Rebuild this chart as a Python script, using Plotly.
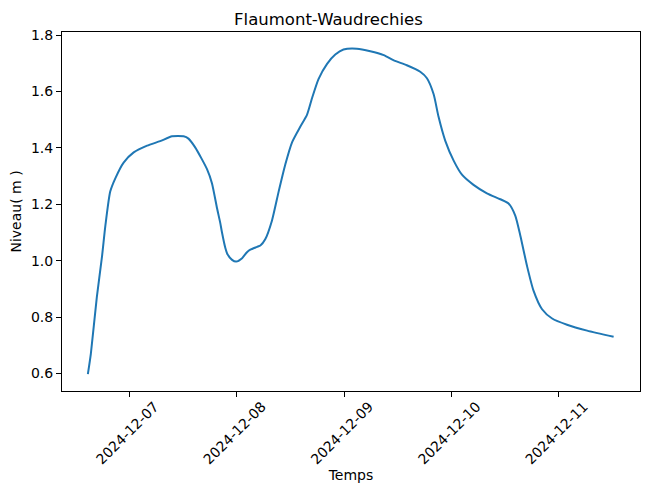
import plotly.graph_objects as go

# niveau d'eau
temps = [
    "2024-12-06 14:40", "2024-12-06 15:20", "2024-12-06 16:40", "2024-12-06 17:50",
    "2024-12-06 18:35", "2024-12-06 19:40", "2024-12-06 20:50", "2024-12-06 22:40",
    "2024-12-07 00:55", "2024-12-07 03:55", "2024-12-07 06:50", "2024-12-07 09:30",
    "2024-12-07 12:05", "2024-12-07 13:10", "2024-12-07 14:40", "2024-12-07 17:20",
    "2024-12-07 18:25", "2024-12-07 19:35", "2024-12-07 20:15", "2024-12-07 20:40",
    "2024-12-07 21:25", "2024-12-07 21:50", "2024-12-07 22:55", "2024-12-07 23:50",
    "2024-12-08 01:10", "2024-12-08 02:15", "2024-12-08 03:00", "2024-12-08 04:30",
    "2024-12-08 05:15", "2024-12-08 06:20", "2024-12-08 07:50", "2024-12-08 09:20",
    "2024-12-08 10:50", "2024-12-08 12:20", "2024-12-08 14:10", "2024-12-08 15:40",
    "2024-12-08 16:50", "2024-12-08 18:15", "2024-12-08 20:10", "2024-12-08 22:00",
    "2024-12-08 23:50", "2024-12-09 02:50", "2024-12-09 05:50", "2024-12-09 08:50",
    "2024-12-09 11:00", "2024-12-09 14:00", "2024-12-09 17:00", "2024-12-09 18:30",
    "2024-12-09 20:00", "2024-12-09 21:05", "2024-12-09 22:35", "2024-12-10 00:30",
    "2024-12-10 02:20", "2024-12-10 04:55", "2024-12-10 07:55", "2024-12-10 10:55",
    "2024-12-10 12:45", "2024-12-10 14:15", "2024-12-10 15:25", "2024-12-10 16:55",
    "2024-12-10 18:20", "2024-12-10 20:15", "2024-12-10 22:30", "2024-12-11 01:50",
    "2024-12-11 06:20", "2024-12-11 12:15",
]
niveau = [
    0.598, 0.670, 0.870, 1.015,
    1.124, 1.245, 1.293, 1.348,
    1.384, 1.408, 1.424, 1.441,
    1.441, 1.433, 1.402, 1.324,
    1.275, 1.184, 1.136, 1.100,
    1.045, 1.025, 1.003, 0.997,
    1.009, 1.030, 1.039, 1.049,
    1.054, 1.076, 1.142, 1.245,
    1.342, 1.420, 1.475, 1.517,
    1.578, 1.644, 1.698, 1.731,
    1.749, 1.752, 1.743, 1.729,
    1.711, 1.693, 1.670, 1.647,
    1.590, 1.511, 1.426, 1.354,
    1.305, 1.269, 1.239, 1.218,
    1.203, 1.160, 1.087, 0.979,
    0.894, 0.828, 0.795, 0.773,
    0.752, 0.730,
]

fig = go.Figure()
fig.add_trace(go.Scatter(x=temps, y=niveau, mode="lines",
                         line=dict(color="#1f77b4", width=2, shape="spline", smoothing=0.6)))

axe = dict(showline=True, mirror=True, linecolor="black", linewidth=1,
           ticks="outside", ticklen=5, tickcolor="black", showgrid=False,
           zeroline=False, automargin=False, tickfont=dict(size=14, color="black"))

# la page html ajoute une marge de 8 px autour de la figure
fig.update_layout(
    width=641, height=481,
    margin=dict(l=54, r=9, t=24, b=98),
    paper_bgcolor="white", plot_bgcolor="white",
    font=dict(family="DejaVu Sans", size=14, color="black"),
    showlegend=False,
    title=dict(text="Flaumont-Waudrechies", x=0.5, xanchor="center",
               y=1 - 11 / 481, yanchor="middle", font=dict(size=16.5)),
    xaxis=dict(axe, range=["2024-12-06 08:53", "2024-12-11 18:09"],
               tick0="2024-12-07", dtick=86400000, tickformat="%Y-%m-%d",
               tickangle=-45, ticklabelshift=25, ticklabelstandoff=-4,
               title=dict(text="Temps", standoff=2, font=dict(size=14))),
    yaxis=dict(axe, range=[0.538, 1.811], tick0=0.6, dtick=0.2, tickformat=".1f",
               title=dict(text="Niveau( m )", standoff=8, font=dict(size=14))),
)

fig.write_html("out.html")
